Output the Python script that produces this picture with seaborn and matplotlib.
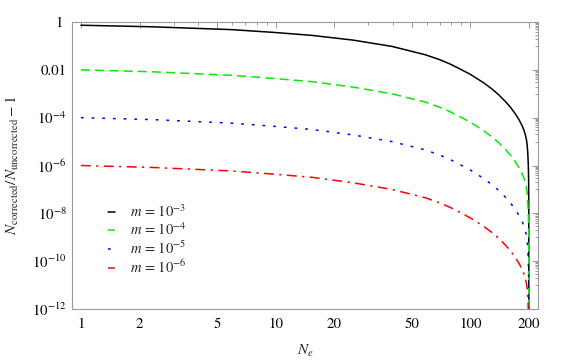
import pandas as pd
import matplotlib
matplotlib.use('Agg')
import matplotlib.pyplot as plt
import matplotlib.transforms as mtransforms
from matplotlib.ticker import FixedLocator, FixedFormatter, NullFormatter
import seaborn as sns

sns.set_style('white')
plt.rcParams['font.family'] = ['STIXGeneral', 'DejaVu Serif']
plt.rcParams['mathtext.fontset'] = 'stix'

# valores: N_e e (N_corrigido/N_nao_corrigido - 1)
n_e = [1, 2.32, 5.97, 10, 15.4, 25, 39.6, 58.8, 70, 78.7, 87.3, 100, 116.7, 129.4, 140, 151.4,
       160, 170.5, 178, 184.6, 189, 192, 194.5, 196.2, 197.4, 198.4, 199.1, 199.6, 199.9, 200]

y_m3 = [0.733, 0.631, 0.479, 0.363, 0.275, 0.175, 0.0955, 0.0427, 0.0263, 0.0176, 0.0116, 6.5e-3,
        2.95e-3, 1.58e-3, 9.1e-4, 4.8e-4, 2.9e-4, 1.45e-4, 8.3e-5, 4.7e-5, 2.95e-5, 1.9e-5,
        1.2e-5, 7.1e-6, 3.8e-6, 1.6e-6, 7.2e-7, 2.1e-7, 2.7e-8, 1e-13]

y_m4 = [1.0e-2, 8.3e-3, 5.9e-3, 4.3e-3, 3.2e-3, 1.9e-3, 1.0e-3, 4.5e-4, 2.7e-4, 1.8e-4, 1.17e-4,
        6.5e-5, 2.95e-5, 1.58e-5, 9.1e-6, 4.8e-6, 2.9e-6, 1.45e-6, 8.3e-7, 4.7e-7, 2.95e-7,
        1.9e-7, 1.2e-7, 7.1e-8, 3.8e-8, 1.6e-8, 7.2e-9, 2.1e-9, 2.7e-10, 1e-13]

y_m5 = [1.0e-4, 8.3e-5, 5.9e-5, 4.3e-5, 3.2e-5, 1.9e-5, 1.0e-5, 4.5e-6, 2.7e-6, 1.8e-6, 1.17e-6,
        6.5e-7, 2.95e-7, 1.58e-7, 9.1e-8, 4.8e-8, 2.9e-8, 1.45e-8, 8.3e-9, 4.7e-9, 2.95e-9,
        1.9e-9, 1.2e-9, 7.1e-10, 3.8e-10, 1.6e-10, 7.2e-11, 2.1e-11, 2.7e-12, 1e-13]

y_m6 = [1.0e-6, 8.3e-7, 5.9e-7, 4.3e-7, 3.2e-7, 1.9e-7, 1.0e-7, 4.5e-8, 2.7e-8, 1.8e-8, 1.17e-8,
        6.5e-9, 2.95e-9, 1.58e-9, 9.1e-10, 4.8e-10, 2.9e-10, 1.45e-10, 8.3e-11, 4.7e-11, 2.95e-11,
        1.9e-11, 1.2e-11, 7.1e-12, 3.8e-12, 1.6e-12, 7.2e-13, 2.1e-13, 2.7e-14, 1e-15]

rotulos = ['$m$ = $10^{-3}$', '$m$ = $10^{-4}$', '$m$ = $10^{-5}$', '$m$ = $10^{-6}$']
cores = ['black', '#00ee00', '#0000ff', '#ff0000']
estilos = ['-', (0, (6, 3.3)), (0, (1.8, 5.2)), (0, (6.5, 3.5, 1.5, 3.5))]

x_ticks = [1, 2, 5, 10, 20, 50, 100, 200]
x_labels = ['1', '2', '5', '10', '20', '50', '100', '200']
y_ticks = [1e-12, 1e-10, 1e-8, 1e-6, 1e-4, 1e-2, 1]
y_labels = ['$10^{-12}$', '$10^{-10}$', '$10^{-8}$', '$10^{-6}$', '$10^{-4}$', '0.01', '1']

fig = plt.figure(figsize=(5.84, 3.62), dpi=100)
ax = fig.add_axes([72/584, 1 - 309/362, 466/584, 287/362])

for yy, lab, cor, est in zip([y_m3, y_m4, y_m5, y_m6], rotulos, cores, estilos):
    df = pd.DataFrame({'N': n_e, 'y': yy})
    sns.lineplot(data=df, x='N', y='y', color=cor, linestyle=est, lw=1.1,
                 estimator=None, sort=False, label=lab, ax=ax)

ax.set_xscale('log')
ax.set_yscale('log')
ax.set_xlim(0.9, 223)
ax.set_ylim(1e-12, 1)

ax.xaxis.set_major_locator(FixedLocator(x_ticks))
ax.xaxis.set_major_formatter(FixedFormatter(x_labels))
ax.xaxis.set_minor_locator(FixedLocator([3, 4, 6, 7, 8, 9, 30, 40, 60, 70, 80, 90]))
ax.xaxis.set_minor_formatter(NullFormatter())

ax.yaxis.set_major_locator(FixedLocator(y_ticks))
ax.yaxis.set_major_formatter(FixedFormatter(y_labels))
menores = []
for e in range(-12, 1, 2):
    menores += [j * 10.0**(e - 1) for j in range(1, 10)]
ax.yaxis.set_minor_locator(FixedLocator(menores))
ax.yaxis.set_minor_formatter(NullFormatter())

cinza = '#999999'
for s in ax.spines.values():
    s.set_color(cinza)
    s.set_linewidth(0.8)
ax.tick_params(which='both', direction='in', top=True, right=True, color=cinza, width=0.7,
               labelsize=10.7, labelcolor='black')
ax.tick_params(which='major', length=4.2)
ax.tick_params(which='minor', length=2.3)
ax.tick_params(axis='x', pad=6)
ax.tick_params(axis='y', pad=4)

ax.set_xlabel('$N_e$', fontsize=11)
ax.xaxis.set_label_coords(0.5, -0.118)
ax.set_ylabel(r'$N_{\rm corrected}/N_{\rm uncorrected}-1$', fontsize=11)
ax.yaxis.set_label_coords(-0.11, 0.5)

# o "1" do mathematica fica um pouco deslocado
t1 = ax.yaxis.get_major_ticks()[-1].label1
t1.set_transform(t1.get_transform() + mtransforms.ScaledTranslation(-0.04, 0, fig.dpi_scale_trans))

ax.legend(loc='upper left', bbox_to_anchor=(0.077, 0.368), frameon=False, fontsize=10.5,
          handlelength=0.5, handletextpad=1.0, labelspacing=0.1, borderpad=0, borderaxespad=0)

fig.savefig('out.png', dpi=100)
